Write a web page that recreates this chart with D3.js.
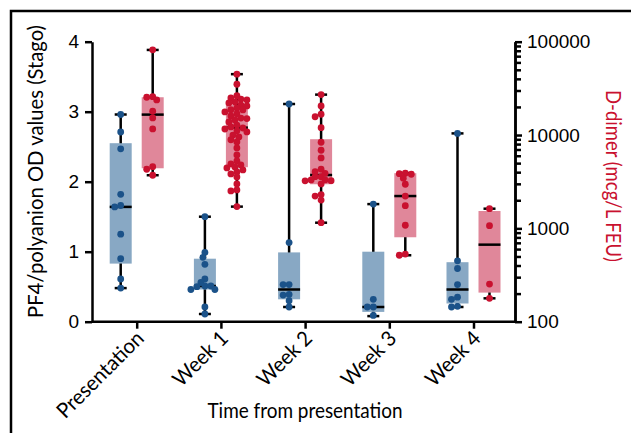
<!DOCTYPE html>
<html>
<head>
<meta charset="utf-8">
<script src="https://cdn.jsdelivr.net/npm/d3@7"></script>
<style>
body { margin: 0; background: #fff; }
svg { display: block; }
.cond { font-family: Lato, "Open Sans", sans-serif; }
.num { font-family: "Liberation Sans", Arial, sans-serif; }
</style>
</head>
<body>
<div id="chart"></div>
<script>
var width = 631
var height = 433

var categories = ['Presentation', 'Week 1', 'Week 2', 'Week 3', 'Week 4']

// PF4/polyanion OD (left axis) - [min, q1, median, q3, max]
var pf4_stats = [
  [0.48, 0.83, 1.64, 2.55, 2.96],
  [0.11, 0.46, 0.51, 0.90, 1.50],
  [0.21, 0.32, 0.46, 0.99, 3.11],
  [0.08, 0.14, 0.21, 1.00, 1.68],
  [0.21, 0.26, 0.46, 0.85, 2.69]
]
var pf4_values = [
  [2.96, 2.71, 2.47, 1.82, 1.64, 1.66, 1.25, 0.90, 0.61, 0.48],
  [1.50, 0.99, 0.92, 0.82, 0.61, 0.56, 0.51, 0.50, 0.51, 0.46, 0.46, 0.21, 0.11],
  [3.11, 1.13, 0.53, 0.53, 0.38, 0.39, 0.30, 0.21],
  [1.68, 0.32, 0.21, 0.21, 0.09],
  [2.69, 0.87, 0.76, 0.53, 0.35, 0.32, 0.21, 0.22]
]

// D-dimer mcg/L FEU (right axis, log) - [min, q1, median, q3, max]
var dd_stats = [
  [3710, 4405, 16550, 25400, 81600],
  [1710, 4520, 12000, 21000, 44900],
  [1150, 2970, 3730, 9020, 27100],
  [515, 803, 2220, 3900, 3900],
  [178, 205, 669, 1535, 1625]
]
var dd_values = [
  [81900, 25400, 23770, 25760, 17990, 15240, 11620, 4585, 4300, 3710],
  [44900, 35000, 26400, 25000, 24200, 23800, 22600, 22100, 21000, 20500, 19500, 18700, 18600, 17700,
   16900, 16000, 15200, 15000, 14500, 13800, 12800, 12200, 11900, 11600, 11100, 10800, 10000, 9550,
   8900, 8430, 7280, 6120, 5270, 4900, 4780, 4550, 4440, 4230, 4020, 3830, 3550, 2990, 2580, 2520, 1710],
  [27100, 20500, 16700, 15700, 12000, 8370, 6870, 5680, 4300, 4050, 3580, 3580, 3890, 3300, 3240,
   3230, 3300, 2990, 2220, 2300, 2010, 1150],
  [3900, 3850, 3800, 3450, 2970, 2220, 1750, 1080, 530, 515],
  [1625, 1069, 253, 178]
]

var left_ticks = [0, 1, 2, 3, 4]
var right_ticks = [100, 1000, 10000, 100000]

var ax_left = 92
var ax_right = 515
var ax_top = 41.7
var ax_bottom = 321.7

var blue_dot = '#1b5289'
var blue_box = '#88a8c4'
var red_dot = '#c9112f'
var red_box = '#e0879a'

var x = d3.scalePoint()
  .domain(categories)
  .range([136.7, 473.5])

var y = d3.scaleLinear()
  .domain([0, 4])
  .range([ax_bottom, ax_top])

var y2 = d3.scaleLog()
  .domain([100, 100000])
  .range([ax_bottom, ax_top])

var svg = d3.select('#chart')
  .append('svg')
  .attr('width', width)
  .attr('height', height)

// frame around the panel
svg.append('path')
  .attr('d', 'M11,' + height + 'V11H' + width)
  .attr('fill', 'none')
  .attr('stroke', '#000')
  .attr('stroke-width', 2.5)

// simple beeswarm so dots with close values spread sideways
function swarm(ys, dist) {
  var order = ys.map(function(v, i) { return i }).sort(function(a, b) { return ys[a] - ys[b] })
  var placed = []
  var out = []
  order.forEach(function(i) {
    var k = 0, dx = 0
    while (true) {
      dx = (k % 2 === 0 ? 1 : -1) * Math.ceil(k / 2) * 2
      var clash = placed.some(function(p) {
        return Math.hypot(p[0] - dx, p[1] - ys[i]) < dist
      })
      if (!clash) break
      k++
    }
    placed.push([dx, ys[i]])
    out[i] = dx
  })
  return out
}

function draw_group(cx, stats, values, scale, dot_col, box_col) {
  var g = svg.append('g')
  var bw = 22
  // whisker
  g.append('line')
    .attr('x1', cx).attr('x2', cx)
    .attr('y1', scale(stats[0])).attr('y2', scale(stats[4]))
    .attr('stroke', '#000').attr('stroke-width', 3)
  ;[stats[0], stats[4]].forEach(function(v) {
    g.append('line')
      .attr('x1', cx - 6).attr('x2', cx + 6)
      .attr('y1', scale(v)).attr('y2', scale(v))
      .attr('stroke', '#000').attr('stroke-width', 3)
  })
  // box
  g.append('rect')
    .attr('x', cx - bw / 2)
    .attr('y', scale(stats[3]))
    .attr('width', bw)
    .attr('height', scale(stats[1]) - scale(stats[3]))
    .attr('fill', box_col)
  // median
  g.append('line')
    .attr('x1', cx - bw / 2).attr('x2', cx + bw / 2)
    .attr('y1', scale(stats[2])).attr('y2', scale(stats[2]))
    .attr('stroke', '#000').attr('stroke-width', 3)
  // dots
  var ys = values.map(function(v) { return scale(v) })
  var offs = swarm(ys, 5)
  g.selectAll('circle')
    .data(values)
    .enter()
    .append('circle')
    .attr('cx', function(d, i) { return cx + offs[i] })
    .attr('cy', function(d, i) { return ys[i] })
    .attr('r', 3.4)
    .attr('fill', dot_col)
}

categories.forEach(function(c, i) {
  draw_group(x(c) - 16, pf4_stats[i], pf4_values[i], y, blue_dot, blue_box)
  draw_group(x(c) + 16, dd_stats[i], dd_values[i], y2, red_dot, red_box)
})

// left axis
var g_left = svg.append('g')
  .attr('transform', 'translate(' + ax_left + ',0)')
  .call(d3.axisLeft(y).tickValues(left_ticks).tickFormat(d3.format('d')).tickSize(7).tickSizeOuter(0).tickPadding(6))
g_left.selectAll('text').attr('class', 'num').style('font-size', '19px').attr('fill', '#000')

// right axis, major + minor ticks
var minor = []
right_ticks.slice(0, 3).forEach(function(d) {
  d3.range(2, 10).forEach(function(m) { minor.push(d * m) })
})
var g_right_minor = svg.append('g')
  .attr('transform', 'translate(' + ax_right + ',0)')
  .call(d3.axisRight(y2).tickValues(minor).tickFormat('').tickSize(6).tickSizeOuter(0))
var g_right = svg.append('g')
  .attr('transform', 'translate(' + ax_right + ',0)')
  .call(d3.axisRight(y2).tickValues(right_ticks).tickFormat(d3.format('d')).tickSize(7).tickSizeOuter(0).tickPadding(5))
g_right.selectAll('text').attr('class', 'num').style('font-size', '19px').attr('fill', '#000')

// x axis
var g_x = svg.append('g')
  .attr('transform', 'translate(0,' + ax_bottom + ')')
  .call(d3.axisBottom(x).tickSize(7).tickSizeOuter(0))
g_x.select('.domain').remove()
g_x.append('line')
  .attr('x1', ax_left).attr('x2', ax_right)
  .attr('stroke', '#000')
g_x.selectAll('text')
  .attr('class', 'cond')
  .attr('y', 0).attr('dy', 0)
  .attr('transform', 'translate(8,18) rotate(-45)')
  .attr('textLength', function(d) { return d === 'Presentation' ? 113 : 68 })
  .attr('lengthAdjust', 'spacingAndGlyphs')
  .style('text-anchor', 'end')
  .style('font-size', '21px')
  .attr('fill', '#000')

svg.selectAll('.domain, .tick line, g line').attr('stroke-width', 2.5)

// axis titles
svg.append('text')
  .attr('class', 'cond')
  .attr('transform', 'translate(43,171.5) rotate(-90)')
  .attr('text-anchor', 'middle')
  .attr('textLength', 293)
  .attr('lengthAdjust', 'spacingAndGlyphs')
  .style('font-size', '21px')
  .text('PF4/polyanion OD values (Stago)')

svg.append('text')
  .attr('class', 'cond')
  .attr('transform', 'translate(606,176) rotate(90)')
  .attr('text-anchor', 'middle')
  .attr('textLength', 172)
  .attr('lengthAdjust', 'spacingAndGlyphs')
  .attr('fill', '#c9112f')
  .style('font-size', '21px')
  .text('D-dimer (mcg/L FEU)')

svg.append('text')
  .attr('class', 'cond')
  .attr('x', 305)
  .attr('y', 418)
  .attr('text-anchor', 'middle')
  .attr('textLength', 195)
  .attr('lengthAdjust', 'spacingAndGlyphs')
  .style('font-size', '22px')
  .text('Time from presentation')
</script>
</body>
</html>
